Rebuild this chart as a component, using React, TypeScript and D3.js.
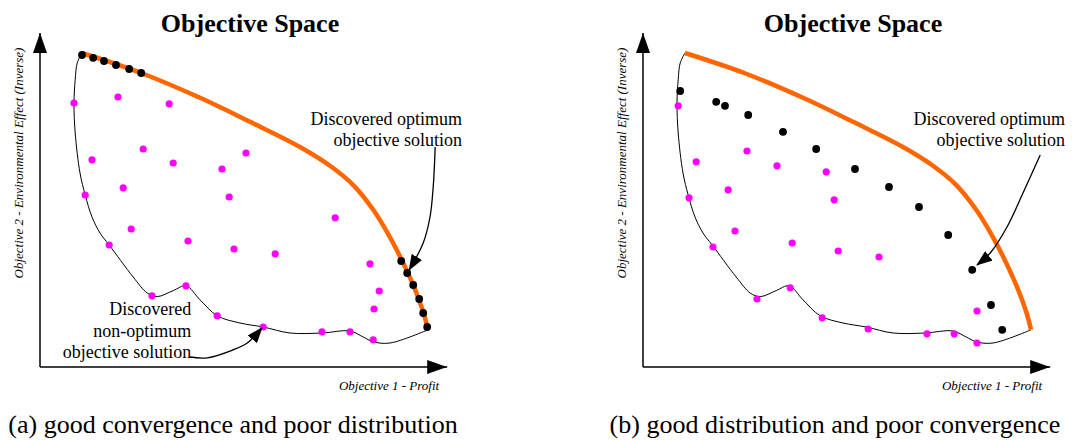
import { useEffect, useRef } from "react";
import * as d3 from "d3";

type Pt = [number, number];

// objective space units: x = Objective 1 (0..100), y = Objective 2 (0..80)
const paretoFront: Pt[] = [
  [10.5, 78.5], [25.3, 73.5], [40, 67.3], [52.5, 61.3], [65, 55], [72.5, 50.3],
  [78.5, 45.3], [83.3, 39.3], [87.3, 32.8], [90.8, 26], [93.8, 19.3], [95.9, 13.5], [97, 9.3],
];

const feasibleEdge: Pt[] = [
  [10.5, 78.5], [9.3, 76], [8.8, 71.8], [8.5, 66], [8.8, 58.5], [10, 48.5], [11.3, 43],
  [13, 37.5], [15, 33.5], [17.3, 30.5], [23.3, 22.5], [26.8, 18.5], [29.3, 17.6],
  [33.3, 19.1], [36.5, 20.3], [40, 16.8], [44.3, 12.8], [50, 11], [55.8, 10], [62.5, 8.5],
  [70.5, 8.5], [77.5, 9], [80.8, 7.5], [83.3, 6.3], [87.5, 6], [97, 9.3],
];

const optimumA: Pt[] = [
  [10.5, 78], [13.3, 77.3], [16, 76.5], [19, 75.5], [22.3, 74.5], [25.3, 73.5],
  [90.3, 26.5], [91.8, 23.5], [93.3, 20.5], [94.8, 17], [95.8, 13.5], [96.8, 10],
];

const nonOptimumA: Pt[] = [
  [8.5, 66], [19.5, 67.5], [32.3, 65.8], [25.8, 54.5], [51.5, 53.5], [13, 51.8],
  [33.3, 51], [45.5, 49.5], [11.3, 43], [20.8, 44.8], [47.3, 42.5], [73.8, 37.3],
  [22.8, 34.5], [17.3, 30.5], [37, 31.5], [48.5, 29.5], [58.8, 28.3], [82.5, 25.8],
  [84.8, 19], [83.5, 14.5], [28, 17.8], [36.5, 20.3], [44.3, 12.8], [55.8, 10],
  [70.5, 8.8], [77.5, 8.8], [83.3, 6.8],
];

const optimumB: Pt[] = [
  [9.3, 69], [18.3, 66.3], [20.5, 65.3], [26.3, 63], [35, 58.8], [43.3, 54.5], [53, 49.5],
  [61.5, 45], [69, 40], [76.3, 33], [82.3, 24.3], [87, 15.5], [89.8, 9.3],
];

const nonOptimumB: Pt[] = [
  [8.8, 65.3], [13.3, 51.3], [26, 54], [33.5, 50.3], [45.8, 48.8], [11.5, 42.3],
  [21.3, 44.3], [47.8, 41.8], [23, 34], [17.5, 30], [37.3, 31], [48.8, 29], [59, 27.5],
  [28.5, 17], [36.8, 19.8], [44.8, 12.3], [56.3, 9.5], [71, 8.3], [77.8, 8.3],
  [83.5, 6], [83.5, 14],
];

const pointerA1: Pt[] = [[98.8, 55], [98.3, 45], [97.5, 37.5], [95.8, 31], [92.3, 24.3]];
const pointerA2: Pt[] = [[37.5, 2.5], [41.8, 2.3], [48.3, 4.3], [51.8, 6], [55.5, 9.8]];
const pointerB: Pt[] = [[99.3, 53], [95, 43.5], [91, 35], [86.8, 28.5], [83.5, 25.5]];

const optimumNote = ["Discovered optimum", "objective solution"];
const nonOptimumNote = ["Discovered", "non-optimum", "objective solution"];
const captions = [
  "(a) good convergence and poor distribution",
  "(b) good distribution and poor convergence",
];

const panels = [
  { left: 40, optimum: optimumA, others: nonOptimumA, pointers: [pointerA1, pointerA2], lowerNote: true, caption: captions[0], captionX: 233 },
  { left: 643, optimum: optimumB, others: nonOptimumB, pointers: [pointerB], lowerNote: false, caption: captions[1], captionX: 835 },
];

const serif = "Liberation Serif";

const App = () => {
  const svgRef = useRef<SVGSVGElement>(null);

  useEffect(() => {
    document.body.style.margin = "0";
    if (!svgRef.current) return;
    const svg = d3.select(svgRef.current);
    svg.selectAll("*").remove();
    svg.attr("width", 1072).attr("height", 441).attr("font-family", serif).style("background", "#fff");

    const defs = svg.append("defs");
    defs.append("marker")
      .attr("id", "axisHead")
      .attr("markerUnits", "userSpaceOnUse")
      .attr("viewBox", "0 0 20 14")
      .attr("markerWidth", 20).attr("markerHeight", 14)
      .attr("refX", 20).attr("refY", 7)
      .attr("orient", "auto")
      .append("path").attr("d", "M0,0L20,7L0,14Z").attr("fill", "#000");
    defs.append("marker")
      .attr("id", "noteHead")
      .attr("markerUnits", "userSpaceOnUse")
      .attr("viewBox", "0 0 16 12")
      .attr("markerWidth", 16).attr("markerHeight", 12)
      .attr("refX", 15).attr("refY", 6)
      .attr("orient", "auto")
      .append("path").attr("d", "M0,0L16,6L0,12Z").attr("fill", "#000");

    const originY = 367;

    panels.forEach((p) => {
      const x = d3.scaleLinear().domain([0, 100]).range([p.left, p.left + 400]);
      const y = d3.scaleLinear().domain([0, 80]).range([originY, originY - 320]);
      const g = svg.append("g");

      const smooth = d3.line<Pt>().x((d) => x(d[0])).y((d) => y(d[1])).curve(d3.curveCatmullRom.alpha(0.5));

      // title
      g.append("text")
        .attr("x", x(52.5)).attr("y", 32)
        .attr("text-anchor", "middle")
        .attr("font-weight", "bold").attr("font-size", 26)
        .text("Objective Space");

      // axes
      g.append("line")
        .attr("x1", x(0)).attr("y1", y(0)).attr("x2", x(0)).attr("y2", y(83.5))
        .attr("stroke", "#000").attr("stroke-width", 1.5).attr("marker-end", "url(#axisHead)");
      g.append("line")
        .attr("x1", x(0)).attr("y1", y(0)).attr("x2", x(101.8)).attr("y2", y(0))
        .attr("stroke", "#000").attr("stroke-width", 1.5).attr("marker-end", "url(#axisHead)");

      g.append("text")
        .attr("transform", `translate(${x(0) - 17},${y(51)}) rotate(-90)`)
        .attr("text-anchor", "middle")
        .attr("font-style", "italic").attr("font-size", 13)
        .text("Objective 2 - Environmental Effect (Inverse)");
      g.append("text")
        .attr("x", x(99.8)).attr("y", y(0) + 23)
        .attr("text-anchor", "end")
        .attr("font-style", "italic").attr("font-size", 13)
        .text("Objective 1 - Profit");

      // feasible region edge and pareto front
      g.append("path").attr("d", smooth(feasibleEdge)).attr("fill", "none").attr("stroke", "#000").attr("stroke-width", 1);
      g.append("path").attr("d", smooth(paretoFront)).attr("fill", "none").attr("stroke", "#ff6600").attr("stroke-width", 4.5);

      g.selectAll(".other").data(p.others).join("circle")
        .attr("cx", (d) => x(d[0])).attr("cy", (d) => y(d[1])).attr("r", 3.6).attr("fill", "#ff00ff");
      g.selectAll(".opt").data(p.optimum).join("circle")
        .attr("cx", (d) => x(d[0])).attr("cy", (d) => y(d[1])).attr("r", 3.9).attr("fill", "#000");

      // annotations
      g.append("text")
        .attr("x", x(105.5)).attr("y", y(60.5))
        .attr("text-anchor", "end")
        .attr("font-size", 18)
        .selectAll("tspan").data(optimumNote).join("tspan")
        .attr("x", x(105.5)).attr("dy", (_d, i) => (i === 0 ? 0 : 21))
        .text((d) => d);

      if (p.lowerNote) {
        g.append("text")
          .attr("x", x(37.8)).attr("y", y(13))
          .attr("text-anchor", "end")
          .attr("font-size", 18)
          .selectAll("tspan").data(nonOptimumNote).join("tspan")
          .attr("x", x(37.8)).attr("dy", (_d, i) => (i === 0 ? 0 : 21.5))
          .text((d) => d);
      }

      p.pointers.forEach((pts) => {
        g.append("path").attr("d", smooth(pts)).attr("fill", "none")
          .attr("stroke", "#000").attr("stroke-width", 1.3).attr("marker-end", "url(#noteHead)");
      });

      // caption
      svg.append("text")
        .attr("x", p.captionX).attr("y", 433)
        .attr("text-anchor", "middle")
        .attr("font-size", 26)
        .text(p.caption);
    });
  }, []);

  return <svg ref={svgRef}></svg>;
};

export default App;
